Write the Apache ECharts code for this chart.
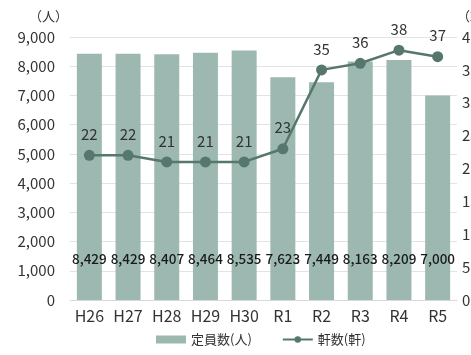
<!DOCTYPE html>
<html>
<head>
<meta charset="utf-8">
<script src="https://cdn.jsdelivr.net/npm/echarts@6/dist/echarts.min.js"></script>
<style>
  html, body { margin: 0; padding: 0; background: #fff; }
  #chart { width: 471px; height: 355px; }
</style>
</head>
<body>
<div id="chart"></div>
<script>
const years = ["H26", "H27", "H28", "H29", "H30", "R1", "R2", "R3", "R4", "R5"];
const capacity = [8429, 8429, 8407, 8464, 8535, 7623, 7449, 8163, 8209, 7000];
const facilities = [22, 22, 21, 21, 21, 23, 35, 36, 38, 37];

const font = "'Noto Sans CJK JP', 'Noto Sans', sans-serif";
const chart = echarts.init(document.getElementById("chart"));

chart.setOption({
  textStyle: { fontFamily: font },
  animation: false,
  grid: { left: 70, right: 14, top: 37, bottom: 55, containLabel: false, outerBoundsMode: "none" },
  legend: {
    left: 151,
    bottom: 4,
    itemGap: 30,
    textStyle: { fontFamily: font, fontSize: 13, color: "#333" },
    data: [
      { name: "定員数(人)", icon: "rect", itemStyle: { color: "#9db8b1" } },
      { name: "軒数(軒)" }
    ],
    itemWidth: 30,
    itemHeight: 8
  },
  xAxis: {
    type: "category",
    data: years,
    axisTick: { show: false },
    axisLine: { lineStyle: { color: "#d9d9d9", width: 1 } },
    axisLabel: { color: "#333", fontSize: 16, margin: 8, interval: 0, fontFamily: font }
  },
  yAxis: [
    {
      type: "value",
      min: 0,
      max: 9000,
      interval: 1000,
      name: "（人）",
      nameGap: 14,
      nameTextStyle: { color: "#333", fontSize: 13, align: "right", padding: [0, 2, 0, 0] },
      axisLabel: {
        color: "#333",
        fontSize: 15,
        margin: 15,
        formatter: (v) => v.toLocaleString("en-US")
      },
      splitLine: { lineStyle: { color: "#e3e3e3" } }
    },
    {
      type: "value",
      min: 0,
      max: 40,
      interval: 5,
      name: "（軒）",
      nameGap: 14,
      nameTextStyle: { color: "#333", fontSize: 13, align: "left" },
      axisLabel: { color: "#333", fontSize: 15, margin: 5 },
      splitLine: { show: false }
    }
  ],
  series: [
    {
      name: "定員数(人)",
      type: "bar",
      data: capacity,
      barWidth: 25,
      itemStyle: { color: "#9db8b1" },
      label: {
        show: true,
        position: "insideBottom",
        distance: 34,
        color: "#1a1a1a",
        fontSize: 13.5,
        fontWeight: 500,
        formatter: (p) => p.value.toLocaleString("en-US")
      }
    },
    {
      name: "軒数(軒)",
      type: "line",
      yAxisIndex: 1,
      data: facilities,
      symbol: "circle",
      symbolSize: 11,
      lineStyle: { color: "#56776c", width: 2.5 },
      itemStyle: { color: "#56776c" },
      label: {
        show: true,
        position: "top",
        distance: 8,
        color: "#333",
        fontSize: 15
      }
    }
  ]
});
</script>
</body>
</html>
